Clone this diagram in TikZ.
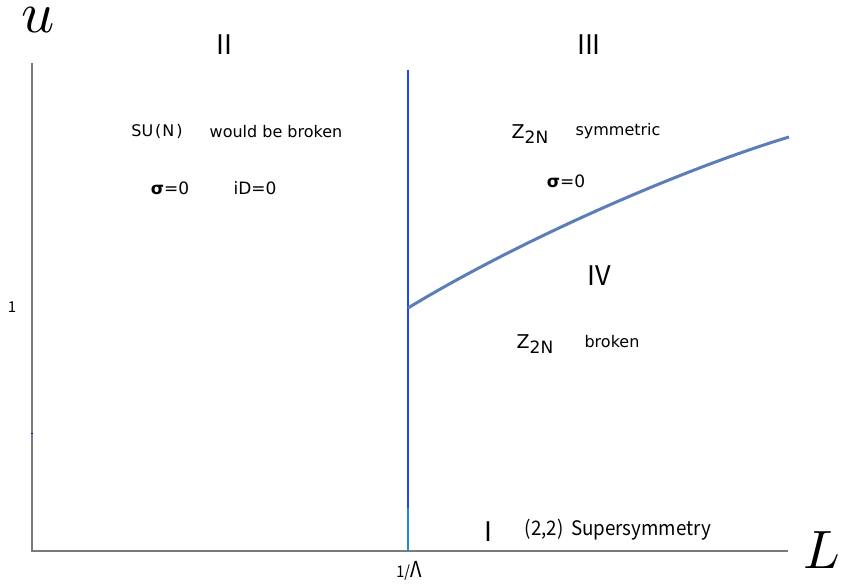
\documentclass[tikz,border=0pt]{standalone}
\usepackage{fontspec}
\usepackage{graphicx}
\setmainfont{DejaVu Sans}
\newfontfamily\cjkf{Noto Sans CJK JP}
\definecolor{axisgray}{HTML}{7A7A7A}
\definecolor{vblue}{HTML}{2244F0}
\definecolor{vteal}{HTML}{2288D8}
\definecolor{curveblue}{HTML}{5B7DB8}
\tikzset{
  lbl/.style={inner sep=0pt, font=\fontsize{16}{18}\selectfont},
  roman/.style={inner sep=0pt, font=\cjkf\fontsize{27}{30}\selectfont},
  axislbl/.style={inner sep=0pt},
}
\begin{document}
\begin{tikzpicture}[x=1pt,y=-1pt]
\useasboundingbox (0,0) rectangle (841,588);
% axes
\coordinate (O) at (32,551);
\coordinate (Ytop) at (32,63);
\coordinate (Xend) at (788,551);
\draw[axisgray, line width=1.4pt] (Ytop) -- (O) -- (Xend);
\draw[blue, line width=1pt] (31,433) -- (33,433);
% vertical critical line
\coordinate (Vtop) at (408,70);
\coordinate (Vmid) at (408,508);
\coordinate (Vbot) at (408,551);
\coordinate (Cstart) at (408,308);
\coordinate (Cend) at (789,137);
\draw[vblue, line width=2.2pt] (Vtop) -- (Vmid);
\draw[vteal, line width=2.2pt] (Vmid) -- (Vbot);
% curve
\draw[curveblue, line width=3pt] (Cstart) .. controls (520,240) and (680,170) .. (Cend);
% axis labels
\node[axislbl] (u) at (38,20) {\scalebox{5.8}{$u$}};
\node[axislbl] (L) at (822,550) {\scalebox{5.4}{$L$}};
\node[axislbl, font=\cjkf\fontsize{15}{16}\selectfont] (one) at (12,307) {1};
\node[axislbl, font=\cjkf\fontsize{22}{24}\selectfont] (lam) at (409,571) {\scalebox{0.9}[1]{{\fontsize{16}{18}\selectfont 1/}Λ}};
% region labels
\node[roman] (II) at (224,45) {II};
\node[roman] (III) at (589,45) {III};
\node[roman] (IV) at (599,276) {IV};
\node[roman] (I) at (488,532) {I};
% region II
\node[lbl] (sun) at (157,131) {SU\kern2pt(\kern1pt N\kern2pt)};
\node[lbl] (wbb) at (276,132) {would be broken};
\node[lbl, font=\fontsize{17}{18}\selectfont] (sig1) at (170,188) {\textbf{σ}=0};
\node[lbl, font=\fontsize{17}{18}\selectfont] (iD) at (255,188) {iD=0};
% region III
\node[lbl, font=\fontsize{19}{20}\selectfont] (z1) at (530,134) {Z\raisebox{-5pt}{\fontsize{17}{18}\selectfont 2N}};
\node[lbl] (sym) at (618,131) {symmetric};
\node[lbl, font=\fontsize{17}{18}\selectfont] (sig2) at (566,181) {\textbf{σ}=0};
% region IV
\node[lbl, font=\fontsize{19}{20}\selectfont] (z2) at (535,344) {Z\raisebox{-5pt}{\fontsize{17}{18}\selectfont 2N}};
\node[lbl] (brk) at (612,342) {broken};
% region I
\node[axislbl, font=\cjkf\fontsize{20}{22}\selectfont] (susy) at (618,530) {\scalebox{0.94}[1]{(2,2)\kern8pt Supersymmetry}};
\end{tikzpicture}
\end{document}
